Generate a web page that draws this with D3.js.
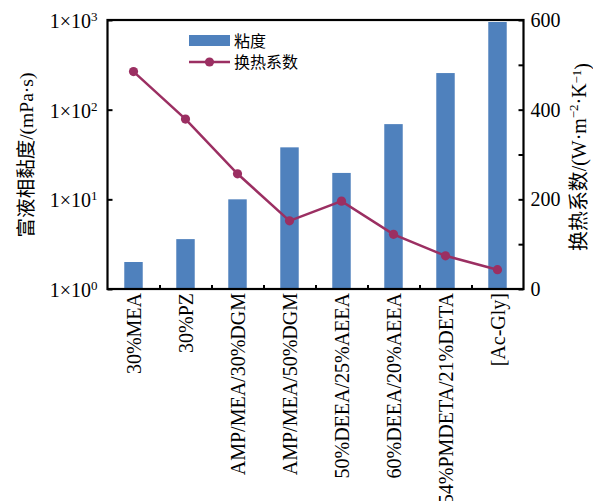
<!DOCTYPE html>
<html>
<head>
<meta charset="utf-8">
<script src="https://cdn.jsdelivr.net/npm/d3@7/dist/d3.min.js"></script>
<style>
  body { margin: 0; background: #fff; }
  svg { display: block; }
  text { font-family: "Liberation Serif", "Noto Sans CJK SC", serif; fill: #000; }
</style>
</head>
<body>
<svg id="chart" width="593" height="501"></svg>
<script>
const categories = ["30%MEA", "30%PZ", "AMP/MEA/30%DGM", "AMP/MEA/50%DGM", "50%DEEA/25%AEEA", "60%DEEA/20%AEEA", "54%PMDETA/21%DETA", "[Ac-Gly]"];
const viscosity = [2.0, 3.6, 10, 38, 19.7, 69, 256, 950];
const heatTransfer = [485, 379, 257, 152, 196, 122, 74, 43];
const leftTicks = [1, 10, 100, 1000];
const leftTickExp = ["0", "1", "2", "3"];
const rightTicks = [0, 100, 200, 300, 400, 500, 600];
const rightLabeled = [0, 200, 400, 600];
const legendLabels = ["粘度", "换热系数"];
const leftTitle = "富液相黏度/(mPa·s)";

const barColor = "#4F81BD";
const lineColor = "#9B2F62";

const svg = d3.select("#chart");
const m = { left: 107.5, right: 523.5, top: 20, bottom: 289 };

const x = d3.scaleBand().domain(categories).range([m.left, m.right]).paddingInner(0.645).paddingOuter(0.3225);
const xLin = d3.scaleLinear().domain([0, categories.length]).range([m.left, m.right]);
const y = d3.scaleLog().domain([1, 1000]).range([m.bottom, m.top]);
const y2 = d3.scaleLinear().domain([0, 600]).range([m.bottom, m.top]);

// bars
svg.append("g").selectAll("rect").data(categories).join("rect")
  .attr("x", d => x(d))
  .attr("width", x.bandwidth())
  .attr("y", (d, i) => y(viscosity[i]))
  .attr("height", (d, i) => y(1) - y(viscosity[i]))
  .attr("fill", barColor);

// line
const pts = categories.map((c, i) => [x(c) + x.bandwidth() / 2, y2(heatTransfer[i])]);
svg.append("path").datum(pts)
  .attr("d", d3.line())
  .attr("fill", "none").attr("stroke", lineColor).attr("stroke-width", 2.5);
svg.append("g").selectAll("circle").data(pts).join("circle")
  .attr("cx", d => d[0]).attr("cy", d => d[1]).attr("r", 4.6)
  .attr("fill", lineColor);

// left axis
const gL = svg.append("g").attr("transform", `translate(${m.left},0)`)
  .call(d3.axisLeft(y).tickValues(leftTicks).tickSize(-5).tickPadding(10).tickFormat(""));
gL.selectAll(".tick text").each(function (d, i) {
  const t = d3.select(this).attr("font-size", 20);
  t.append("tspan").text("1×10");
  t.append("tspan").text(leftTickExp[i]).attr("font-size", 13).attr("dy", "-0.55em");
});
gL.selectAll(".tick text").attr("dy", "0.38em");

// right axis
const gR = svg.append("g").attr("transform", `translate(${m.right},0)`)
  .call(d3.axisRight(y2).tickValues(rightTicks).tickSize(-5).tickPadding(7)
    .tickFormat(d => rightLabeled.includes(d) ? d : ""));
gR.selectAll(".tick text").attr("font-size", 20);

// bottom ticks between categories
svg.append("g").attr("transform", `translate(0,${m.bottom})`)
  .call(d3.axisBottom(xLin).tickValues(d3.range(1, categories.length)).tickSize(-4).tickFormat(""));

// bottom labels
const gB = svg.append("g").attr("transform", `translate(0,${m.bottom})`)
  .call(d3.axisBottom(x).tickSize(0).tickPadding(0));
gB.select(".domain").remove();
gB.selectAll(".tick text")
  .attr("font-size", 20)
  .attr("transform", "rotate(-90)")
  .attr("text-anchor", "end")
  .attr("x", -4).attr("y", 0).attr("dy", "0.35em");

svg.selectAll(".domain").attr("stroke", "none");
svg.selectAll(".tick line").attr("stroke", "#000").attr("stroke-width", 2);

// frame
svg.append("rect").attr("x", m.left).attr("y", m.top)
  .attr("width", m.right - m.left).attr("height", m.bottom - m.top)
  .attr("fill", "none").attr("stroke", "#000").attr("stroke-width", 2.2);

// axis titles (fit to the reference lengths)
function fit(sel, target, base) {
  const len = sel.node().getComputedTextLength();
  if (len > 0) sel.attr("font-size", base * target / len);
}
const lt = svg.append("text").attr("transform", `translate(33,155) rotate(-90)`)
  .attr("text-anchor", "middle").attr("font-size", 20).text(leftTitle);
fit(lt, 165, 20);

const rt = svg.append("text").attr("transform", `translate(586,157) rotate(-90)`)
  .attr("text-anchor", "middle").attr("font-size", 20);
rt.append("tspan").text("换热系数/(W·m");
rt.append("tspan").text("−2").attr("font-size", "0.65em").attr("dy", "-0.6em");
rt.append("tspan").text("·K").attr("dy", "0.39em");
rt.append("tspan").text("−1").attr("font-size", "0.65em").attr("dy", "-0.39em");
rt.append("tspan").text(")").attr("dy", "0.39em");
fit(rt, 188, 20);

// legend
const lg = svg.append("g");
lg.append("rect").attr("x", 189).attr("y", 35).attr("width", 41).attr("height", 11).attr("fill", barColor);
lg.append("line").attr("x1", 189).attr("x2", 230).attr("y1", 62).attr("y2", 62)
  .attr("stroke", lineColor).attr("stroke-width", 2.5);
lg.append("circle").attr("cx", 209.5).attr("cy", 62).attr("r", 4.6).attr("fill", lineColor);
lg.selectAll("text.lg").data(legendLabels).join("text").attr("class", "lg")
  .attr("x", 234).attr("y", (d, i) => 41 + i * 21).attr("dy", "0.35em")
  .attr("font-size", 16).text(d => d);
</script>
</body>
</html>
